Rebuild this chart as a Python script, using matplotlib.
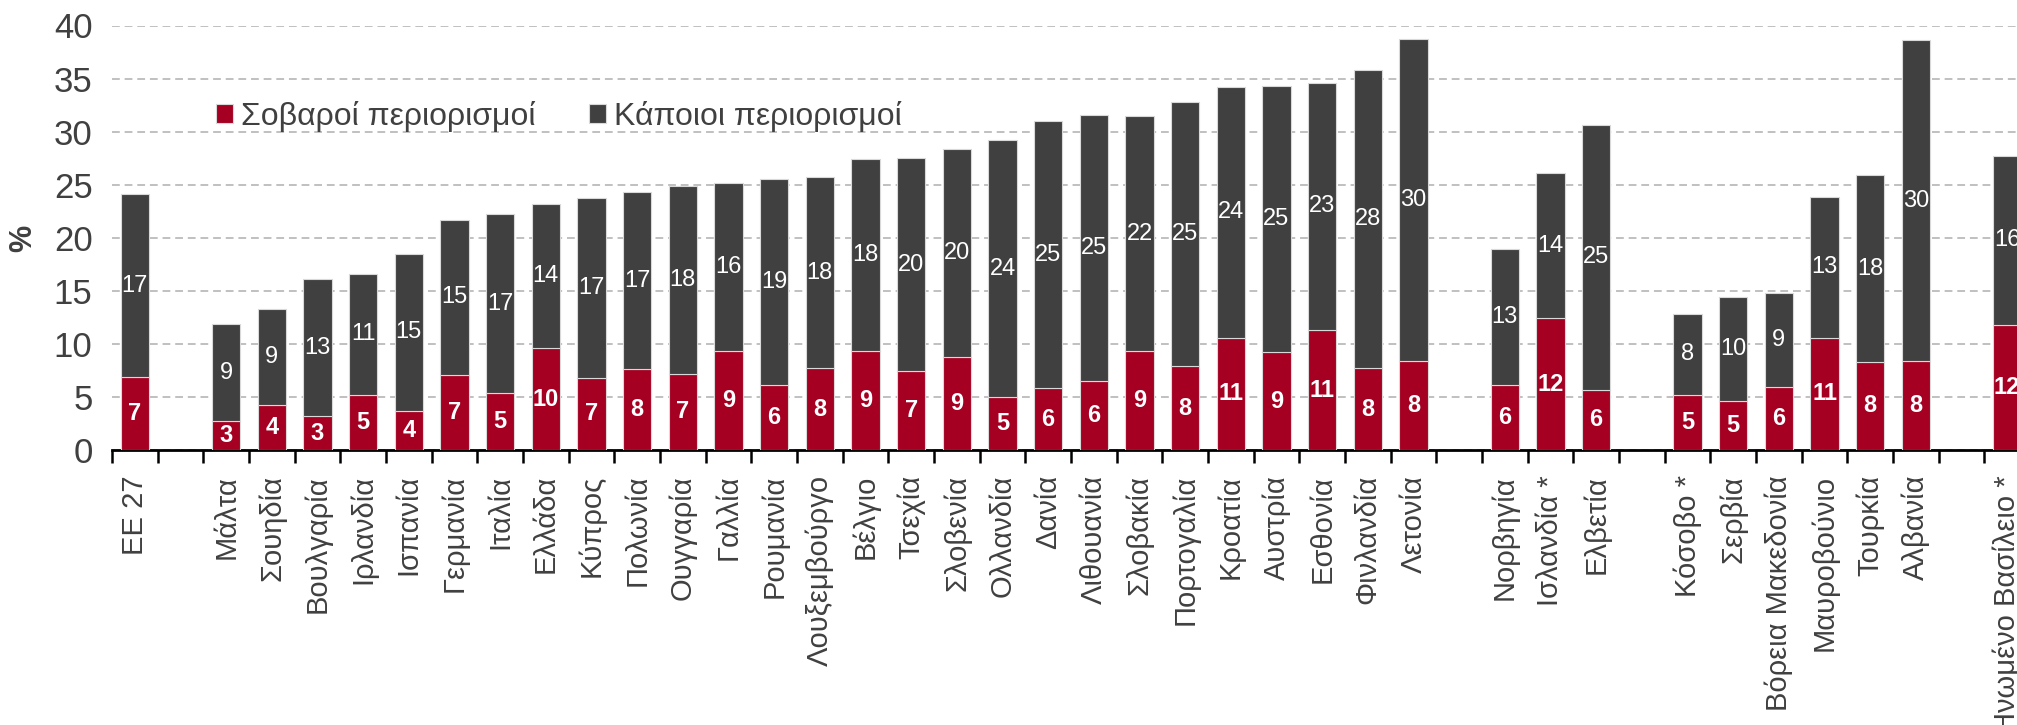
import matplotlib
matplotlib.use("Agg")
import matplotlib.pyplot as plt
from matplotlib import font_manager
import numpy as np

names = {f.name for f in font_manager.fontManager.ttflist}
NARROW = ['Liberation Sans Narrow', 'Liberation Sans', 'DejaVu Sans'] if 'Liberation Sans Narrow' in names else ['Liberation Sans', 'DejaVu Sans']
REG = ['Liberation Sans', 'DejaVu Sans']

categories = ["ΕΕ 27", "", "Μάλτα", "Σουηδία", "Βουλγαρία", "Ιρλανδία", "Ισπανία", "Γερμανία",
              "Ιταλία", "Ελλάδα", "Κύπρος", "Πολωνία", "Ουγγαρία", "Γαλλία", "Ρουμανία",
              "Λουξεμβούργο", "Βέλγιο", "Τσεχία", "Σλοβενία", "Ολλανδία", "Δανία", "Λιθουανία",
              "Σλοβακία", "Πορτογαλία", "Κροατία", "Αυστρία", "Εσθονία", "Φινλανδία", "Λετονία",
              "", "Νορβηγία", "Ισλανδία *", "Ελβετία", "", "Κόσοβο *", "Σερβία",
              "Βόρεια Μακεδονία", "Μαυροβούνιο", "Τουρκία", "Αλβανία", "", "Ηνωμένο Βασίλειο *"]

severe = [6.9, np.nan, 2.7, 4.2, 3.2, 5.2, 3.7, 7.1, 5.4, 9.6, 6.8, 7.6, 7.2, 9.3, 6.1,
          7.7, 9.3, 7.4, 8.8, 5.0, 5.8, 6.5, 9.3, 7.9, 10.6, 9.2, 11.3, 7.7, 8.4,
          np.nan, 6.1, 12.4, 5.7, np.nan, 5.2, 4.6, 5.9, 10.6, 8.3, 8.4, np.nan, 11.8]

some = [17.2, np.nan, 9.2, 9.1, 12.9, 11.4, 14.8, 14.6, 16.8, 13.6, 16.9, 16.7, 17.7, 15.9, 19.4,
        18.0, 18.1, 20.1, 19.6, 24.2, 25.2, 25.1, 22.2, 24.9, 23.6, 25.1, 23.3, 28.1, 30.3,
        np.nan, 12.8, 13.7, 24.9, np.nan, 7.6, 9.8, 8.9, 13.2, 17.6, 30.2, np.nan, 15.9]

series_names = ["Σοβαροί περιορισμοί", "Κάποιοι περιορισμοί"]
RED = "#A50021"
DARK = "#404040"
TXT = "#404040"

fig = plt.figure(figsize=(20.17, 7.25), dpi=100)
ax = fig.add_axes([112/2017, 275/725, (2030-112)/2017, (450-25.5)/725])

x = np.arange(len(categories))
sev = np.array(severe, dtype=float)
som = np.array(some, dtype=float)
ok = ~np.isnan(sev)
w = 0.62
ax.bar(x[ok], sev[ok], w, color=RED, edgecolor="#d9d9d9", linewidth=0.8,
       label=series_names[0], zorder=3)
ax.bar(x[ok], som[ok], w, bottom=sev[ok], color=DARK,
       edgecolor="#d9d9d9", linewidth=0.8, label=series_names[1], zorder=3)

for i in range(len(categories)):
    if np.isnan(sev[i]):
        continue
    ax.text(x[i], sev[i] / 2, f"{sev[i]:.0f}", ha="center", va="center", color="white",
            fontsize=17, fontweight="bold", family=NARROW, zorder=4)
    ax.text(x[i], sev[i] + som[i] / 2, f"{som[i]:.0f}", ha="center", va="center", color="white",
            fontsize=17, family=NARROW, zorder=4)

ax.set_xlim(-0.5, len(categories) - 0.5)
ax.set_ylim(0, 40)
ax.set_yticks(np.arange(0, 41, 5))
ax.yaxis.grid(True, linestyle=(0, (4, 2.5)), color="#c0c0c0", linewidth=1.4, zorder=0)
ax.set_axisbelow(True)
for s in ["left", "right", "top"]:
    ax.spines[s].set_visible(False)
ax.spines["bottom"].set_linewidth(2.0)
ax.spines["bottom"].set_color("black")

ax.set_xticks(x)
ax.set_xticklabels(categories, rotation=90, fontsize=21, color=TXT, family=REG)
ax.tick_params(axis="x", which="major", length=0, pad=18)
ax.set_xticks(np.arange(-0.5, len(categories), 1), minor=True)
ax.tick_params(axis="x", which="minor", length=9, width=1.8, color="black", direction="out")
ax.tick_params(axis="y", length=0, pad=14, labelsize=25, labelcolor=TXT)
for lab in ax.get_yticklabels():
    lab.set_family(NARROW)

fig.text(23/2017, 1 - 238/725, "%", rotation=90, ha="center", va="center", fontsize=22,
         fontweight="bold", color=TXT, family=REG)

leg = ax.legend(loc="upper left", bbox_to_anchor=(187/2017, 1 - 72/725), bbox_transform=fig.transFigure,
                ncol=2, frameon=False, handlelength=0.55, handleheight=0.55,
                handletextpad=0.25, columnspacing=1.66, prop={'family': REG, 'size': 23})
for t in leg.get_texts():
    t.set_color(TXT)

fig.savefig("out.png", dpi=100)
